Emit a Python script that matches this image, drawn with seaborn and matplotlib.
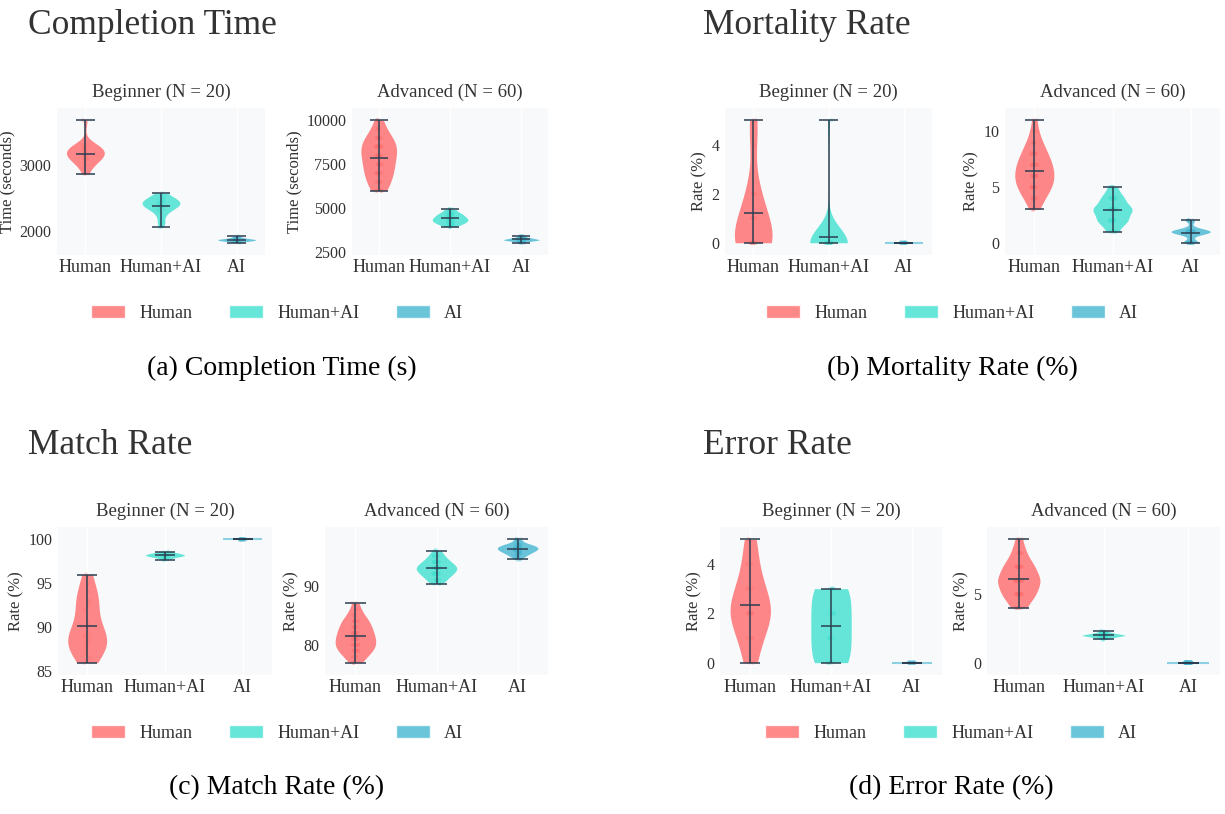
import numpy as np
import pandas as pd
import matplotlib
matplotlib.use("Agg")
import matplotlib.pyplot as plt
from matplotlib.patches import Patch
import seaborn as sns

GROUPS = ["Human", "Human+AI", "AI"]
COLORS = ["#FF6B6B", "#40E0D0", "#45B7D1"]
LEVELS = ["Beginner (N = 20)", "Advanced (N = 60)"]

# ---- Completion time (seconds) ----
time_beg_human = [2860, 2950, 3000, 3050, 3080, 3100, 3100, 3120, 3150, 3150,
                  3180, 3200, 3220, 3230, 3250, 3250, 3280, 3300, 3300, 3680]
time_beg_hai = [2050, 2120, 2200, 2290, 2320, 2340, 2360, 2380, 2390, 2400,
                2410, 2420, 2430, 2440, 2450, 2460, 2480, 2500, 2530, 2570]
time_beg_ai = [1815, 1830, 1835, 1840, 1845, 1850, 1850, 1855, 1855, 1860,
               1860, 1865, 1865, 1870, 1870, 1875, 1880, 1890, 1900, 1912]
time_adv_human_vals = [6000, 6500, 7000, 7500, 8000, 8500, 9000, 9500, 10000]
time_adv_human_counts = [5, 6, 8, 8, 9, 10, 8, 3, 3]
time_adv_hai_vals = [3950, 4100, 4250, 4400, 4550, 4700, 4930]
time_adv_hai_counts = [4, 8, 12, 12, 9, 9, 6]
time_adv_ai_vals = [3040, 3120, 3180, 3220, 3280, 3340, 3420]
time_adv_ai_counts = [4, 8, 12, 14, 11, 7, 4]

# ---- Mortality rate (%) ----
mort_beg_human_vals = [0, 1, 2, 4, 5]
mort_beg_human_counts = [10, 4, 3, 1, 2]
mort_beg_hai_vals = [0, 5]
mort_beg_hai_counts = [19, 1]
mort_beg_ai_vals = [0]
mort_beg_ai_counts = [20]
mort_adv_human_vals = [3, 4, 5, 6, 7, 8, 9, 10, 11]
mort_adv_human_counts = [3, 6, 11, 12, 11, 8, 5, 2, 2]
mort_adv_hai_vals = [1, 2, 3, 4, 5]
mort_adv_hai_counts = [6, 16, 21, 12, 5]
mort_adv_ai_vals = [0, 1, 2]
mort_adv_ai_counts = [15, 38, 7]

# ---- Match rate (%) ----
match_beg_human = [86, 86.5, 87, 87.5, 88, 88, 88.5, 88.5, 89, 89,
                   89.5, 90, 90.5, 92, 93, 92.5, 94, 93, 95, 96]
match_beg_hai = [97.6, 97.8, 97.9, 98.0, 98.0, 98.1, 98.1, 98.1, 98.2, 98.2,
                 98.2, 98.2, 98.3, 98.3, 98.3, 98.4, 98.4, 98.5, 98.5, 98.6]
match_beg_ai_vals = [100]
match_beg_ai_counts = [20]
match_adv_human_vals = [77, 78, 79, 80, 81, 82, 83, 84, 85, 86, 87]
match_adv_human_counts = [3, 4, 8, 9, 8, 8, 6, 7, 3, 2, 2]
match_adv_hai_vals = [90.3, 91, 92, 93, 94, 95, 95.9]
match_adv_hai_counts = [3, 7, 13, 17, 11, 6, 3]
match_adv_ai_vals = [94.4, 95, 95.5, 96, 96.5, 97, 97.8]
match_adv_ai_counts = [3, 6, 9, 14, 15, 9, 4]

# ---- Error rate (%) ----
err_beg_human_vals = [0, 1, 2, 3, 4, 5]
err_beg_human_counts = [2, 3, 7, 4, 2, 2]
err_beg_hai_vals = [0, 1, 2, 3]
err_beg_hai_counts = [5, 5, 5, 5]
err_beg_ai_vals = [0]
err_beg_ai_counts = [20]
err_adv_human_vals = [4, 5, 6, 7, 8, 9]
err_adv_human_counts = [6, 14, 18, 13, 6, 3]
err_adv_hai_vals = [1.7, 1.8, 1.9, 2.0, 2.1, 2.2, 2.3]
err_adv_hai_counts = [3, 6, 11, 20, 11, 6, 3]
err_adv_ai_vals = [0]
err_adv_ai_counts = [60]

# Y-axis tick marks for each subplot
time_ticks = ([2000, 3000], [2500, 5000, 7500, 10000])
mort_ticks = ([0, 2, 4], [0, 5, 10])
match_ticks = ([85, 90, 95, 100], [80, 90])
err_ticks = ([0, 2, 4], [0, 5])


def rep(vals, counts):
    return list(np.repeat(vals, counts))


def frame(human, hai, ai):
    rows = []
    for g, vals in zip(GROUPS, (human, hai, ai)):
        rows += [(g, float(v)) for v in vals]
    return pd.DataFrame(rows, columns=["group", "value"])


panels = [
    dict(title="Completion Time", caption="(a) Completion Time (s)",
         ylabel="Time (seconds)", ticks=time_ticks,
         data=[frame(time_beg_human, time_beg_hai, time_beg_ai),
               frame(rep(time_adv_human_vals, time_adv_human_counts),
                     rep(time_adv_hai_vals, time_adv_hai_counts),
                     rep(time_adv_ai_vals, time_adv_ai_counts))],
         axes=[(57, 108, 265, 255), (352, 108, 548, 255)],
         title_xy=(28, 25), legend_xy=(277, 313), caption_xy=(282, 368)),
    dict(title="Mortality Rate", caption="(b) Mortality Rate (%)",
         ylabel="Rate (%)", ticks=mort_ticks,
         data=[frame(rep(mort_beg_human_vals, mort_beg_human_counts),
                     rep(mort_beg_hai_vals, mort_beg_hai_counts),
                     rep(mort_beg_ai_vals, mort_beg_ai_counts)),
               frame(rep(mort_adv_human_vals, mort_adv_human_counts),
                     rep(mort_adv_hai_vals, mort_adv_hai_counts),
                     rep(mort_adv_ai_vals, mort_adv_ai_counts))],
         axes=[(725, 108, 932, 255), (1005, 108, 1220, 255)],
         title_xy=(703, 25), legend_xy=(952, 313), caption_xy=(952, 368)),
    dict(title="Match Rate", caption="(c) Match Rate (%)",
         ylabel="Rate (%)", ticks=match_ticks,
         data=[frame(match_beg_human, match_beg_hai,
                     rep(match_beg_ai_vals, match_beg_ai_counts)),
               frame(rep(match_adv_human_vals, match_adv_human_counts),
                     rep(match_adv_hai_vals, match_adv_hai_counts),
                     rep(match_adv_ai_vals, match_adv_ai_counts))],
         axes=[(58, 527, 272, 675), (325, 527, 548, 675)],
         title_xy=(28, 445), legend_xy=(277, 733), caption_xy=(277, 788)),
    dict(title="Error Rate", caption="(d) Error Rate (%)",
         ylabel="Rate (%)", ticks=err_ticks,
         data=[frame(rep(err_beg_human_vals, err_beg_human_counts),
                     rep(err_beg_hai_vals, err_beg_hai_counts),
                     rep(err_beg_ai_vals, err_beg_ai_counts)),
               frame(rep(err_adv_human_vals, err_adv_human_counts),
                     rep(err_adv_hai_vals, err_adv_hai_counts),
                     rep(err_adv_ai_vals, err_adv_ai_counts))],
         axes=[(720, 527, 942, 675), (987, 527, 1220, 675)],
         title_xy=(703, 445), legend_xy=(951, 733), caption_xy=(951, 788)),
]

sns.set_theme(style="white")
plt.rcParams["font.family"] = ["Liberation Serif", "DejaVu Serif"]
plt.rcParams["text.color"] = "#333333"
plt.rcParams["axes.labelcolor"] = "#333333"
plt.rcParams["xtick.color"] = "#333333"
plt.rcParams["ytick.color"] = "#333333"

W, H = 1225, 814
fig = plt.figure(figsize=(W / 100, H / 100), dpi=100)
fig.patch.set_facecolor("white")

LINE = "#2C3E50"
ALPHA = 0.8
palette = dict(zip(GROUPS, COLORS))


def draw_violins(ax, df, ticks, level, ylabel):
    ax.set_facecolor("#F7F9FB")
    sns.violinplot(data=df, x="group", y="value", hue="group", order=GROUPS,
                   hue_order=GROUPS, palette=palette, width=0.5, cut=0,
                   inner=None, density_norm="width", linewidth=0,
                   saturation=1, alpha=ALPHA, legend=False, ax=ax)
    stats = df.groupby("group")["value"].agg(["min", "max", "mean"]).reindex(GROUPS)
    # groups with a single repeated value collapse to a flat sliver
    for i, g in enumerate(GROUPS):
        lo, hi = stats.loc[g, "min"], stats.loc[g, "max"]
        if lo == hi:
            ax.hlines(lo, i - 0.25, i + 0.25, color=palette[g], alpha=0.6,
                      lw=1.5, zorder=2)
    sns.stripplot(data=df, x="group", y="value", hue="group", order=GROUPS,
                  hue_order=GROUPS, palette=palette, jitter=0.04, size=3,
                  alpha=0.25, linewidth=0, legend=False, ax=ax, zorder=3)
    for i, g in enumerate(GROUPS):
        lo, hi, mu = stats.loc[g, "min"], stats.loc[g, "max"], stats.loc[g, "mean"]
        ax.vlines(i, lo, hi, color=LINE, lw=1.1, zorder=4)
        ax.hlines([lo, hi, mu], i - 0.125, i + 0.125, color=LINE, lw=1.1, zorder=4)
    lo, hi = df["value"].min(), df["value"].max()
    pad = (hi - lo) * 0.1 if hi > lo else 1
    ax.set_ylim(lo - pad, hi + pad)
    ax.set_xlim(-0.375, 2.375)
    ax.set_yticks(ticks)
    ax.set_xlabel("")
    ax.set_ylabel(ylabel, fontsize=12, labelpad=3)
    ax.set_title(level, fontsize=13.5, pad=8, color="#333333")
    ax.tick_params(axis="x", labelsize=13, length=0, pad=3)
    ax.tick_params(axis="y", labelsize=11.5, length=0, pad=4)
    ax.grid(axis="x", color="white", lw=1.0)
    ax.set_axisbelow(True)
    for s in ax.spines.values():
        s.set_visible(False)


for p in panels:
    for k, (x0, y0, x1, y1) in enumerate(p["axes"]):
        ax = fig.add_axes([x0 / W, 1 - y1 / H, (x1 - x0) / W, (y1 - y0) / H])
        draw_violins(ax, p["data"][k], p["ticks"][k], LEVELS[k], p["ylabel"])
    tx, ty = p["title_xy"]
    fig.text(tx / W, 1 - ty / H, p["title"], fontsize=25.5, ha="left",
             va="center", color="#333333")
    handles = [Patch(facecolor=c, alpha=ALPHA, label=g) for g, c in zip(GROUPS, COLORS)]
    lx, ly = p["legend_xy"]
    fig.legend(handles=handles, loc="center", bbox_to_anchor=(lx / W, 1 - ly / H),
               ncol=3, frameon=False, fontsize=13, handlelength=1.9,
               handleheight=0.75, columnspacing=2.0, handletextpad=0.8)
    cx, cy = p["caption_xy"]
    fig.text(cx / W, 1 - cy / H, p["caption"], fontsize=20, ha="center",
             va="center", color="black")

fig.savefig("out.png", dpi=100, facecolor="white")
